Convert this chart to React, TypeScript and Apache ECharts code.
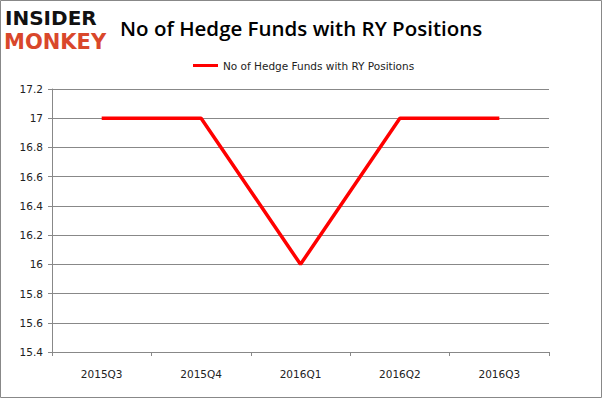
import React, { useEffect, useRef } from "react";
import * as echarts from "echarts";

const categories = ["2015Q3", "2015Q4", "2016Q1", "2016Q2", "2016Q3"];
const hedgeFunds = [17, 17, 16, 17, 17];
const seriesName = "No of Hedge Funds with RY Positions";
const titleText = "No of Hedge Funds with RY Positions";

export default function App() {
  const ref = useRef<HTMLDivElement>(null);
  useEffect(() => {
    document.body.style.margin = "0";
    const chart = echarts.init(ref.current!, null, { renderer: "svg" });
    chart.setOption({
      animation: false,
      backgroundColor: "#ffffff",
      title: {
        text: titleText,
        left: 115,
        top: 12,
        textStyle: {
          fontFamily: "Open Sans",
          fontSize: 20.5,
          fontWeight: 600,
          color: "#000",
        },
      },
      legend: {
        top: 55,
        left: 188,
        itemWidth: 25,
        itemHeight: 3,
        itemGap: 5,
        icon: "rect",
        textStyle: { fontFamily: "DejaVu Sans", fontSize: 10.5, color: "#222" },
        data: [seriesName],
      },
      graphic: [
        {
          type: "rect",
          shape: { x: 0.5, y: 0.5, width: 601, height: 397 },
          style: { fill: "none", stroke: "#888", lineWidth: 1 },
        },
        {
          type: "text",
          x: 5,
          y: 8,
          style: {
            text: "INSIDER",
            font: "900 20px 'DejaVu Sans'",
            fill: "#111",
          },
        },
        {
          type: "text",
          x: 4,
          y: 31,
          style: {
            text: "MONKEY",
            font: "900 21px 'DejaVu Sans'",
            fill: "#d9472b",
          },
        },
      ],
      grid: { left: 52, right: 53, top: 89, bottom: 46 },
      xAxis: {
        type: "category",
        data: categories,
        boundaryGap: true,
        axisLine: { lineStyle: { color: "#888" } },
        axisTick: { show: true, length: 4, lineStyle: { color: "#888" } },
        axisLabel: {
          margin: 16,
          fontFamily: "DejaVu Sans",
          fontSize: 10.5,
          color: "#222",
        },
      },
      yAxis: {
        type: "value",
        min: 15.4,
        max: 17.2,
        interval: 0.2,
        axisLine: { show: true, lineStyle: { color: "#888" } },
        axisTick: { show: true, length: 4, lineStyle: { color: "#888" } },
        splitLine: { lineStyle: { color: "#888" } },
        axisLabel: {
          margin: 9,
          fontFamily: "DejaVu Sans",
          fontSize: 10.5,
          color: "#222",
          formatter: (v: number) => String(Math.round(v * 10) / 10),
        },
      },
      series: [
        {
          name: seriesName,
          type: "line",
          data: hedgeFunds,
          symbol: "none",
          lineStyle: { color: "#ff0000", width: 3.5 },
          itemStyle: { color: "#ff0000" },
        },
      ],
    });
    return () => chart.dispose();
  }, []);
  return <div ref={ref} style={{ width: 602, height: 398 }} />;
}
